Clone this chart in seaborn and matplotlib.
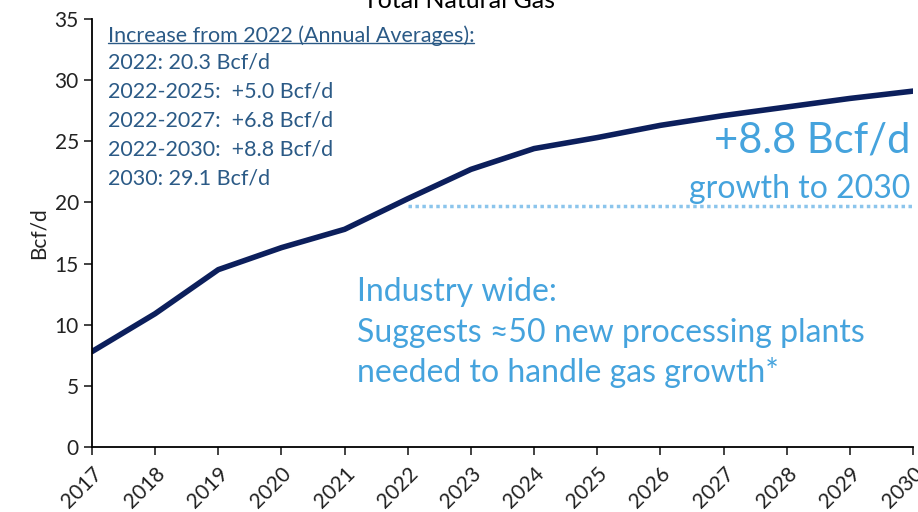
import pandas as pd
import matplotlib.pyplot as plt
import seaborn as sns

years = list(range(2017, 2031))
gas_bcfd = [7.8, 10.9, 14.5, 16.3, 17.8, 20.3, 22.7, 24.4, 25.3, 26.3, 27.1, 27.8, 28.5, 29.1]
baseline_start = 2022
baseline_value = 19.7

summary_title = "Increase from 2022 (Annual Averages):"
summary_lines = [
    "2022: 20.3 Bcf/d",
    "2022-2025:  +5.0 Bcf/d",
    "2022-2027:  +6.8 Bcf/d",
    "2022-2030:  +8.8 Bcf/d",
    "2030: 29.1 Bcf/d",
]
industry_lines = [
    "Industry wide:",
    "Suggests \u224850 new processing plants",
    "needed to handle gas growth*",
]

NAVY = "#0C1F5C"
DARK_BLUE = "#2B5A86"
LIGHT_BLUE = "#45A3DD"
DOT_BLUE = "#8CC5EC"

sns.set_theme(style="ticks")
plt.rcParams["font.family"] = ["Lato", "DejaVu Sans"]

df = pd.DataFrame({"Year": years, "Bcf/d": gas_bcfd})

fig = plt.figure(figsize=(9.18, 5.12), dpi=100)
ax = fig.add_axes([0.1002, 0.127, 0.8944, 0.836])

sns.lineplot(data=df, x="Year", y="Bcf/d", color=NAVY, linewidth=4, ax=ax)

# dotted 2022 baseline out to 2030
base_df = pd.DataFrame({"Year": [baseline_start, years[-1]], "v": [baseline_value] * 2})
ax.plot(base_df["Year"], base_df["v"], color=DOT_BLUE, linewidth=2.5, linestyle=(0, (1, 1)))

ax.set_xlim(years[0], years[-1])
ax.set_ylim(0, 35)
ax.set_yticks(range(0, 36, 5))
ax.set_xticks(years)
ax.set_xticklabels([str(y) for y in years], rotation=45, ha="right", rotation_mode="anchor")
ax.set_xlabel("")
ax.set_ylabel("Bcf/d", fontsize=15, color="#222222")
ax.tick_params(axis="both", labelsize=15, colors="#222222", direction="out", length=6, width=1.2)
ax.tick_params(axis="x", pad=6)
for s in ["top", "right"]:
    ax.spines[s].set_visible(False)
for s in ["left", "bottom"]:
    ax.spines[s].set_color("black")
    ax.spines[s].set_linewidth(1.3)

# summary text block
t = ax.text(0.019, 0.962, summary_title, transform=ax.transAxes,
            fontsize=15.5, color=DARK_BLUE, va="center", ha="left")
for i, line in enumerate(summary_lines):
    ax.text(0.019, 0.899 - i * 0.0678, line, transform=ax.transAxes,
            fontsize=15.5, color=DARK_BLUE, va="center", ha="left")

# underline the block title
fig.canvas.draw()
bb = t.get_window_extent().transformed(ax.transAxes.inverted())
ax.plot([bb.x0, bb.x1], [bb.y0 + 0.006, bb.y0 + 0.006], transform=ax.transAxes,
        color=DARK_BLUE, linewidth=1)

ax.text(0.997, 0.715, "+8.8 Bcf/d", transform=ax.transAxes, fontsize=30,
        color=LIGHT_BLUE, ha="right", va="center")
ax.text(0.997, 0.602, "growth to 2030", transform=ax.transAxes, fontsize=23,
        color=LIGHT_BLUE, ha="right", va="center")

for i, y in enumerate([0.362, 0.266, 0.175]):
    ax.text(0.323, y, industry_lines[i], transform=ax.transAxes, fontsize=23,
            color=LIGHT_BLUE, ha="left", va="center")

fig.text(0.5, 1.0, "Total Natural Gas", fontsize=18, ha="center", va="center", color="black")

fig.savefig("out.png", dpi=100)
